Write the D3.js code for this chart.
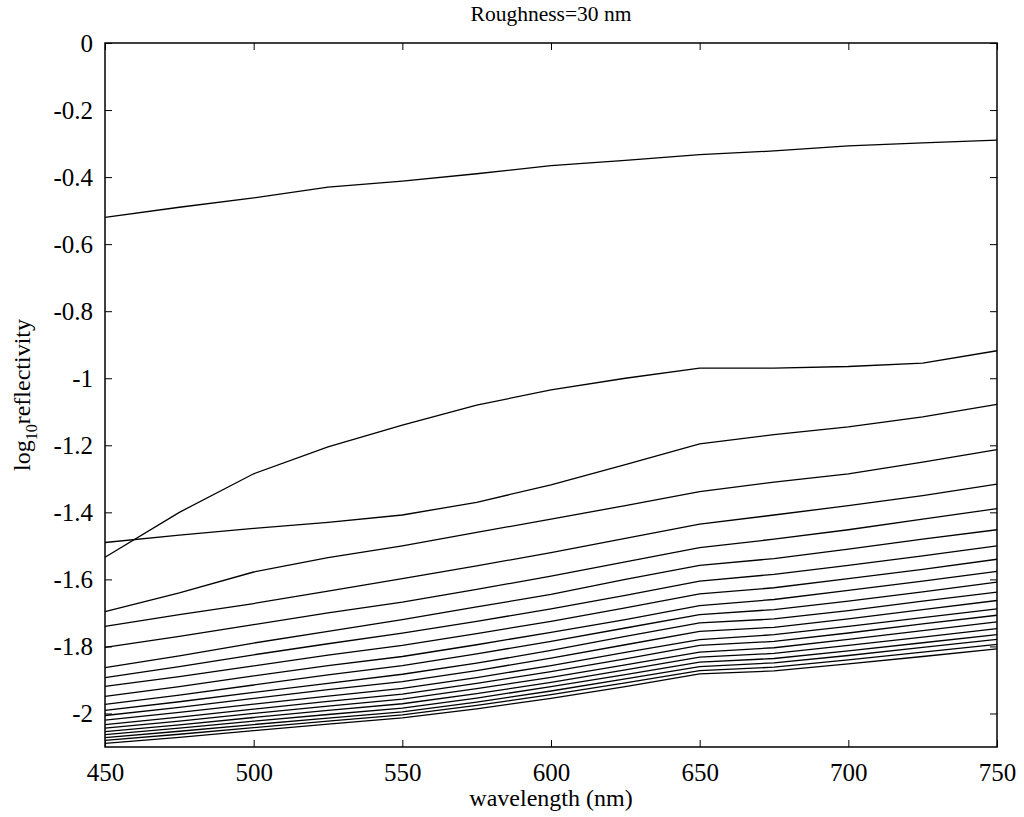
<!DOCTYPE html>
<html lang="en-us">
<head>
<meta charset="utf-8">
<script src="https://d3js.org/d3.v7.min.js"></script>
<style>
  body { margin: 0; background: #fff; }
  .chart text { font-family: "Liberation Serif", "Times New Roman", serif; fill: #000; }
  .chart .curve { fill: none; stroke: #000; stroke-width: 1.3px; }
</style>
</head>
<body>
<svg class="chart"></svg>
<script>
var width = 1024,
    height = 817;

// wavelength grid (nm)
var wavelength = [450, 475, 500, 525, 550, 575, 600, 625, 650, 675, 700, 725, 750];

// log10 reflectivity, one array per curve
var line01 = [-0.52, -0.49, -0.462, -0.43, -0.412, -0.39, -0.366, -0.35, -0.333, -0.322, -0.307, -0.298, -0.29];
var line02 = [-1.534, -1.40, -1.285, -1.205, -1.14, -1.08, -1.035, -1.0, -0.97, -0.97, -0.965, -0.955, -0.918];
var line03 = [-1.49, -1.468, -1.448, -1.43, -1.408, -1.37, -1.318, -1.258, -1.196, -1.168, -1.145, -1.115, -1.078];
var line04 = [-1.696, -1.64, -1.578, -1.535, -1.50, -1.46, -1.42, -1.38, -1.338, -1.31, -1.285, -1.25, -1.213];
var line05 = [-1.74, -1.705, -1.672, -1.635, -1.598, -1.56, -1.52, -1.478, -1.435, -1.408, -1.38, -1.35, -1.316];
var line06 = [-1.803, -1.77, -1.735, -1.70, -1.668, -1.63, -1.59, -1.548, -1.505, -1.48, -1.452, -1.42, -1.389];
var line07 = [-1.863, -1.828, -1.79, -1.755, -1.72, -1.682, -1.645, -1.60, -1.558, -1.538, -1.51, -1.48, -1.452];
var line08 = [-1.893, -1.86, -1.825, -1.792, -1.76, -1.725, -1.688, -1.648, -1.605, -1.585, -1.558, -1.53, -1.50];
var line09 = [-1.919, -1.89, -1.858, -1.826, -1.797, -1.762, -1.725, -1.685, -1.643, -1.625, -1.598, -1.57, -1.54];
var line10 = [-1.949, -1.92, -1.888, -1.857, -1.83, -1.795, -1.758, -1.72, -1.678, -1.66, -1.633, -1.605, -1.576];
var line11 = [-1.973, -1.945, -1.915, -1.885, -1.857, -1.822, -1.785, -1.745, -1.705, -1.69, -1.665, -1.637, -1.608];
var line12 = [-1.991, -1.965, -1.937, -1.91, -1.883, -1.85, -1.812, -1.77, -1.73, -1.718, -1.693, -1.665, -1.638];
var line13 = [-2.006, -1.982, -1.955, -1.929, -1.905, -1.872, -1.835, -1.795, -1.755, -1.743, -1.718, -1.69, -1.663];
var line14 = [-2.02, -1.997, -1.972, -1.948, -1.925, -1.893, -1.857, -1.818, -1.78, -1.765, -1.74, -1.714, -1.688];
var line15 = [-2.033, -2.011, -1.987, -1.964, -1.942, -1.91, -1.875, -1.837, -1.797, -1.785, -1.76, -1.733, -1.707];
var line16 = [-2.044, -2.023, -2.0, -1.978, -1.957, -1.926, -1.892, -1.855, -1.817, -1.804, -1.779, -1.753, -1.727];
var line17 = [-2.054, -2.034, -2.012, -1.991, -1.971, -1.941, -1.907, -1.87, -1.832, -1.821, -1.797, -1.772, -1.747];
var line18 = [-2.063, -2.044, -2.023, -2.003, -1.984, -1.954, -1.92, -1.884, -1.847, -1.836, -1.813, -1.789, -1.765];
var line19 = [-2.072, -2.053, -2.033, -2.014, -1.995, -1.966, -1.933, -1.897, -1.86, -1.849, -1.827, -1.803, -1.779];
var line20 = [-2.08, -2.062, -2.042, -2.023, -2.004, -1.976, -1.944, -1.909, -1.872, -1.862, -1.84, -1.817, -1.794];
var line21 = [-2.089, -2.071, -2.051, -2.032, -2.013, -1.986, -1.955, -1.92, -1.882, -1.873, -1.852, -1.83, -1.807];

var curves = [line01, line02, line03, line04, line05, line06, line07, line08, line09, line10,
              line11, line12, line13, line14, line15, line16, line17, line18, line19, line20, line21];

var xTicks = [450, 500, 550, 600, 650, 700, 750];
var yTicks = [0, -0.2, -0.4, -0.6, -0.8, -1, -1.2, -1.4, -1.6, -1.8, -2];

var titleText = "Roughness=30 nm";
var xLabel = "wavelength (nm)";

// plot box ("top" is taken by window.top, so prefix everything)
var boxLeft = 105, boxRight = 997, boxTop = 43, boxBottom = 747;
var serif = '"Liberation Serif", "Times New Roman", serif';

var svg = d3.select(".chart")
    .attr("width", width)
    .attr("height", height);

var x = d3.scaleLinear().domain([450, 750]).range([boxLeft, boxRight]);
var y = d3.scaleLinear().domain([-2.1, 0]).range([boxBottom, boxTop]);

var fmt = function(d) { return String(+d.toFixed(1)); };

// curves
var line = d3.line()
    .x(function(d, i) { return x(wavelength[i]); })
    .y(function(d) { return y(d); });

svg.append("g").selectAll("path")
    .data(curves)
  .enter().append("path")
    .attr("class", "curve")
    .attr("d", line);

// axes, ticks pointing inwards on all four sides (matlab style)
var tickLen = 7;
var tickFont = 25;
var axisStyle = function(g) {
  g.attr("font-size", null).attr("font-family", null);
  g.select(".domain").remove();
  g.selectAll("line").attr("stroke", "#000").attr("stroke-width", 1);
  g.selectAll("text")
    .style("font-family", serif)
    .style("font-size", tickFont + "px");
};

svg.append("g")
    .attr("transform", "translate(0," + boxBottom + ")")
    .call(d3.axisBottom(x).tickValues(xTicks).tickSizeInner(-tickLen).tickSizeOuter(0).tickPadding(tickLen + 9).tickFormat(d3.format("d")))
    .call(axisStyle);

svg.append("g")
    .attr("transform", "translate(0," + boxTop + ")")
    .call(d3.axisTop(x).tickValues(xTicks).tickSizeInner(-tickLen).tickSizeOuter(0).tickFormat(""))
    .call(axisStyle);

svg.append("g")
    .attr("transform", "translate(" + boxLeft + ",0)")
    .call(d3.axisLeft(y).tickValues(yTicks).tickSizeInner(-tickLen).tickSizeOuter(0).tickPadding(tickLen + 5).tickFormat(fmt))
    .call(axisStyle);

svg.append("g")
    .attr("transform", "translate(" + boxRight + ",0)")
    .call(d3.axisRight(y).tickValues(yTicks).tickSizeInner(-tickLen).tickSizeOuter(0).tickFormat(""))
    .call(axisStyle);

// frame
svg.append("rect")
    .attr("x", boxLeft)
    .attr("y", boxTop)
    .attr("width", boxRight - boxLeft)
    .attr("height", boxBottom - boxTop)
    .attr("fill", "none")
    .attr("stroke", "#000")
    .attr("stroke-width", 1.5);

// title and labels
svg.append("text")
    .attr("x", (boxLeft + boxRight) / 2)
    .attr("y", 21)
    .attr("text-anchor", "middle")
    .style("font-family", serif)
    .style("font-size", "21.5px")
    .text(titleText);

svg.append("text")
    .attr("x", (boxLeft + boxRight) / 2)
    .attr("y", 806)
    .attr("text-anchor", "middle")
    .style("font-family", serif)
    .style("font-size", "24px")
    .text(xLabel);

var yl = svg.append("text")
    .attr("transform", "translate(30," + ((boxTop + boxBottom) / 2) + ") rotate(-90)")
    .attr("text-anchor", "middle")
    .style("font-family", serif)
    .style("font-size", "24px");
yl.append("tspan").text("log");
yl.append("tspan").style("font-size", "16px").attr("dy", 7).text("10");
yl.append("tspan").attr("dy", -7).text("reflectivity");
</script>
</body>
</html>
